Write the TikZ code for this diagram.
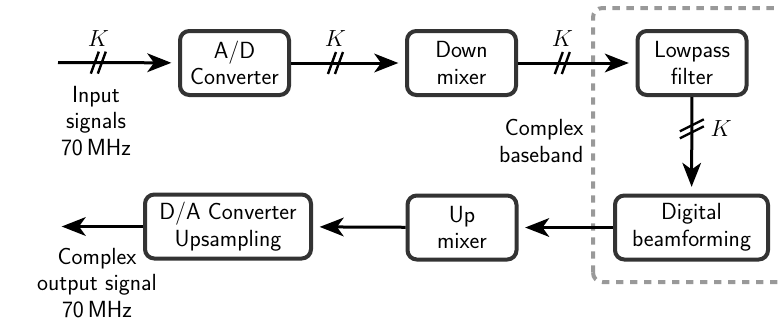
\RequirePackage{fix-cm}
\documentclass[tikz,border=0pt]{standalone}
\usepackage{fontspec}
\usetikzlibrary{arrows.meta,positioning}

\tikzset{every picture/.style={line width=0.75pt}}
\tikzset{
  blk/.style={draw={rgb,255:red,51;green,51;blue,51}, line width=3pt, rounded corners=7pt,
    align=center, minimum width=81.75pt, minimum height=48pt, inner sep=1pt,
    font=\sffamily\fontsize{17.5}{20}\selectfont},
  lbl/.style={align=center, inner sep=0pt, font=\sffamily\fontsize{17.5}{20}\selectfont},
  arr/.style={line width=2.25pt, shorten >=5pt, -{Stealth[length=18pt,width=14pt,inset=5pt]}},
  kk/.style={inner sep=0pt, font=\fontsize{17.5}{20}\selectfont},
  hbus/.pic={\draw[line width=1.8pt, -, shorten >=0pt] (-7.5,-11) -- (0.5,11) (-0.5,-11) -- (7.5,11);},
  vbus/.pic={\draw[line width=1.8pt, -, shorten >=0pt] (-12,-9.5) -- (12,2.5) (-12,-2.5) -- (12,9.5);}
}

\begin{document}
\begin{tikzpicture}[x=0.75pt,y=0.75pt,yscale=-1,xscale=1]
\useasboundingbox (0,0) rectangle (780,326);

%Dashed frame round the baseband part
\draw [color={rgb, 255:red, 153; green, 153; blue, 153 }, line width=3pt, rounded corners=7pt, dash pattern={on 5.5pt off 5pt}] (593,282) -- (593,8) -- (800,8) -- (800,282) -- cycle ;

%Blocks
\node [blk] (ad) at (234.5,63) {A/D\\Converter};
\node [blk] (dm) at (461.5,63) {Down\\mixer};
\node [blk] (lp) at (692,63) {Lowpass\\filter};
\node [blk, minimum width=114.75pt] (db) at (691.5,227.5) {Digital\\beamforming};
\node [blk] (um) at (462,227.5) {Up\\mixer};
\node [blk, minimum width=124.5pt] (da) at (228,226.5) {D/A Converter\\Upsampling};

%Free ends
\coordinate (in) at (58,62.5);
\coordinate (out) at (55,226.5);

%Straight Lines
\draw [arr] (in) -- pic[pos=0.336]{hbus} node[kk, pos=0.336, above=11pt] {$K$} (ad);
\draw [arr] (ad) -- pic[pos=0.39]{hbus} node[kk, pos=0.39, above=11pt] {$K$} (dm);
\draw [arr] (dm) -- pic[pos=0.377]{hbus} node[kk, pos=0.377, above=11pt] {$K$} (lp);
\draw [arr] (lp) -- pic[pos=0.33]{vbus} node[kk, pos=0.33, right=13pt] {$K$} (db);
\draw [arr] (db) -- (um);
\draw [arr] (um) -- (da);
\draw [arr] (da) -- (out);

% Text Node
\node [lbl] (inlbl) at (96,121) {Input\\signals\\70\,MHz};
% Text Node
\node [lbl] (outlbl) at (97,283) {Complex\\output signal\\70\,MHz};
% Text Node
\node [lbl, align=right, anchor=east] (bblbl) at (584,141) {Complex\\baseband};

\end{tikzpicture}
\end{document}
